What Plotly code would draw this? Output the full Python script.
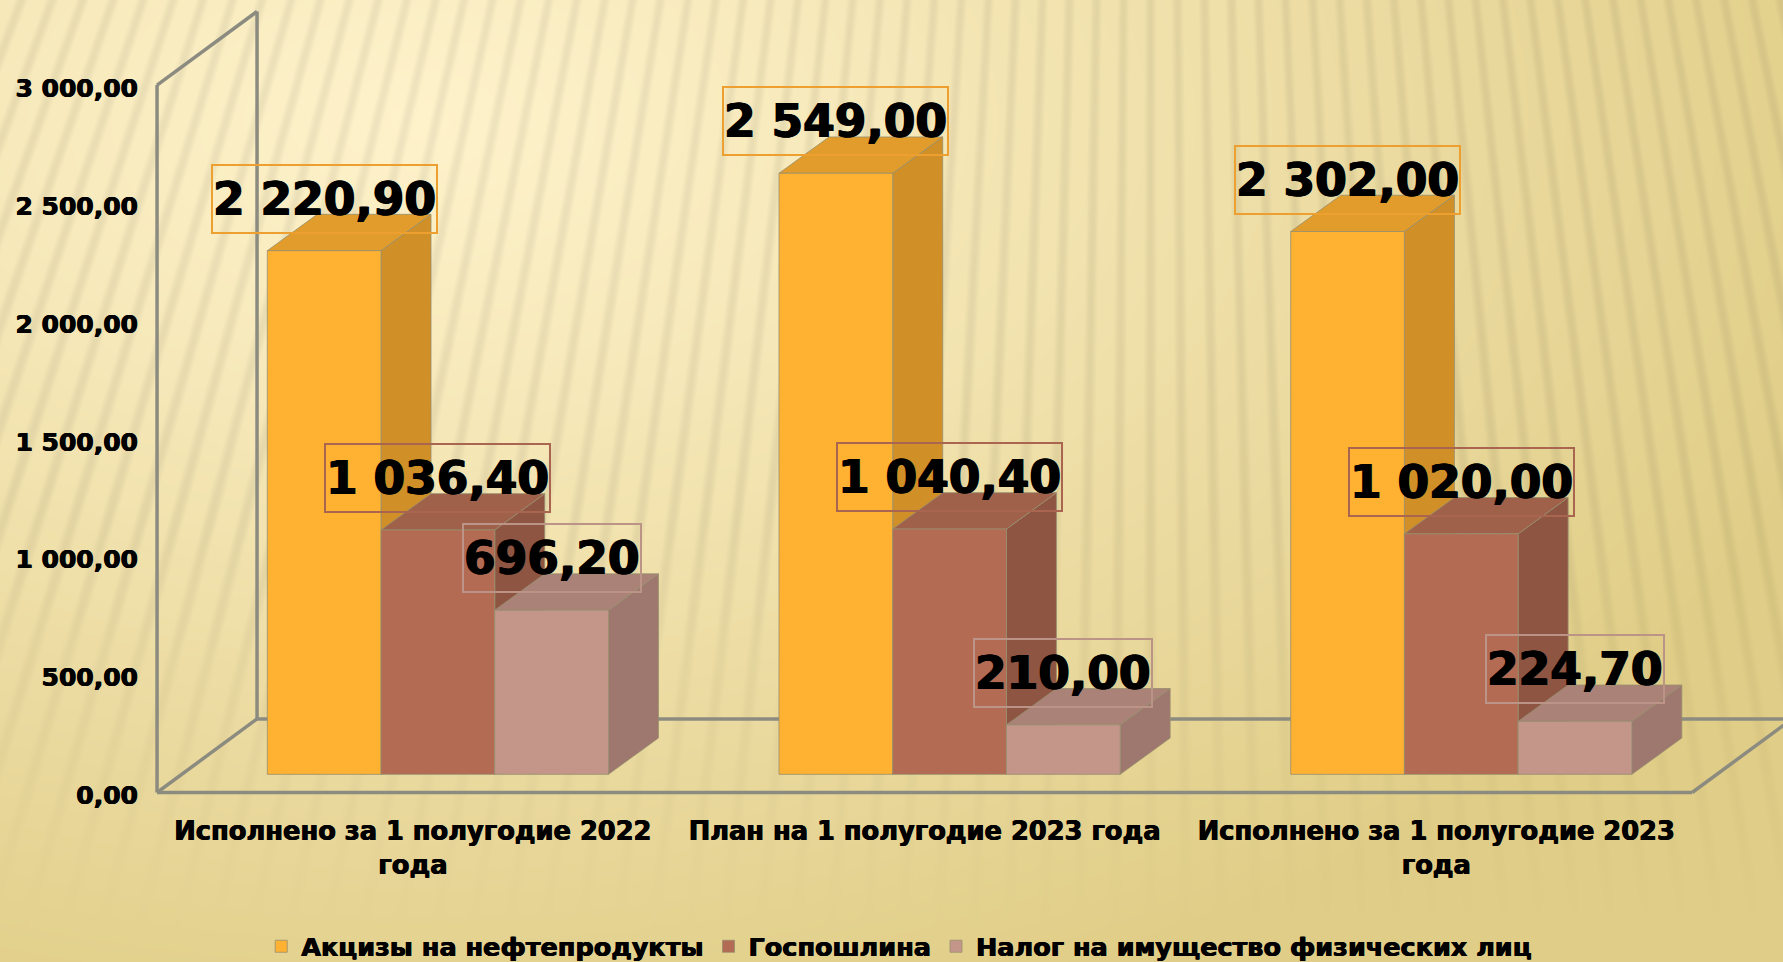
import base64, struct, zlib
import numpy as np
import plotly.graph_objects as go

categories = ["Исполнено за 1 полугодие 2022<br>года", "План на 1 полугодие 2023 года", "Исполнено за 1 полугодие 2023<br>года"]
series_names = ["Акцизы на нефтепродукты", "Госпошлина", "Налог на имущество физических лиц"]
excise = [2220.90, 2549.00, 2302.00]
duty = [1036.40, 1040.40, 1020.00]
property_tax = [696.20, 210.00, 224.70]
y_ticks = [0, 500, 1000, 1500, 2000, 2500, 3000]

W, H = 1783, 962
FONT = "DejaVu Sans"
HEAVY = "0.5px 0 0 black, -0.5px 0 0 black"

front = ["#FFB232", "#B36B53", "#C4968A"]
side = ["#D09027", "#8E5642", "#9E776E"]
top = ["#E29C2B", "#A0614B", "#AA8277"]
label_border = ["#EDA02F", "#A9654F", "#BC9387"]

def fmt(v):
    return f"{v:,.2f}".replace(",", " ").replace(".", ",")

# 3-D projection constants, in axis units
bar_w = 2 / 9
bar_dx, bar_base = 0.0488, 77
side_dx, side_dy = 0.0977, 154
wall_dx, wall_dy = 0.1954, 312

# background picture
yy, xx = np.mgrid[0:H, 0:W].astype(float)
d = np.hypot((xx - 420) / 1500, (yy - 120) / 950)
t = np.clip(d, 0, 1) ** 1.1
c0, c1 = np.array([254, 242, 203.]), np.array([224, 205, 135.])
angle = np.arctan2(xx - 1150, yy + 3000)
phase = (angle / 0.009) % 1.0
st = np.clip(np.cos(2 * np.pi * phase), 0, 1) ** 1.5
fade = np.clip((930 - yy) / 420, 0, 1)
img = c0[None, None, :] + (c1 - c0)[None, None, :] * t[..., None]
img = img * (1 - (0.06 * st * fade)[..., None])
img = img.round().clip(0, 255).astype(np.uint8)
raw = b"".join(b"\0" + img[r].tobytes() for r in range(H))
def chunk(k, data):
    return struct.pack(">I", len(data)) + k + data + struct.pack(">I", zlib.crc32(k + data) & 0xffffffff)
png = b"\x89PNG\r\n\x1a\n" + chunk(b"IHDR", struct.pack(">IIBBBBB", W, H, 8, 2, 0, 0, 0)) + chunk(b"IDAT", zlib.compress(raw, 9)) + chunk(b"IEND", b"")
bg_uri = "data:image/png;base64," + base64.b64encode(png).decode()

# axis ranges: plot area covers the full page
px_per_cat = 511.7
px_per_val = 0.2358
x0_px, y0_px = 412.9, 792.5
x_range = [-x0_px / px_per_cat, (W - x0_px) / px_per_cat]
y_range = [-(H - y0_px) / px_per_val, y0_px / px_per_val]

fig = go.Figure()
shapes = []
grey = "#8C8B80"
def line(x1, y1, x2, y2, w=3.5):
    shapes.append(dict(type="line", xref="x", yref="y", x0=x1, y0=y1, x1=x2, y1=y2, layer="below", line=dict(color=grey, width=w)))

L, R = -0.5, 2.5
ymax = y_ticks[-1]
line(L, 0, L, ymax)
line(L, ymax, L + wall_dx, ymax + wall_dy)
line(L + wall_dx, ymax + wall_dy, L + wall_dx, wall_dy)
line(L, 0, L + wall_dx, wall_dy)
line(L + wall_dx, wall_dy, R + wall_dx, wall_dy)
line(L, 0, R, 0)
line(R, 0, R + wall_dx, wall_dy)

edge = "rgba(150,142,110,0.8)"
annotations = []
for j, (name, vals) in enumerate(zip(series_names, [excise, duty, property_tax])):
    fig.add_trace(go.Bar(
        name=name, x=[i + bar_dx for i in range(3)], y=vals, base=bar_base,
        marker=dict(color=front[j], line=dict(color=edge, width=1)),
    ))
    for i, v in enumerate(vals):
        xl = i + bar_dx + (j - 1.5) * bar_w
        xr = xl + bar_w
        yt = v + bar_base
        shapes.append(dict(type="path", xref="x", yref="y", layer="below",
            path=f"M{xr},{bar_base} L{xr + side_dx},{bar_base + side_dy} L{xr + side_dx},{yt + side_dy} L{xr},{yt} Z",
            fillcolor=side[j], line=dict(color=edge, width=1)))
        shapes.append(dict(type="path", xref="x", yref="y", layer="below",
            path=f"M{xl},{yt} L{xl + side_dx},{yt + side_dy} L{xr + side_dx},{yt + side_dy} L{xr},{yt} Z",
            fillcolor=top[j], line=dict(color=edge, width=1)))
        annotations.append(dict(
            x=xl + bar_w / 2, y=yt, xref="x", yref="y", yshift=52, yanchor="middle", xanchor="center",
            text=fmt(v), showarrow=False, font=dict(family=FONT, size=45.5, color="black", weight="bold", shadow="0.8px 0 0 black, -0.8px 0 0 black"),
            bordercolor=label_border[j], borderwidth=2, borderpad=0, height=66, valign="middle",
        ))

fig.update_layout(
    width=W, height=H, autosize=False,
    margin=dict(l=0, r=0, t=0, b=0, pad=0, autoexpand=False),
    paper_bgcolor="#F0E0A8", plot_bgcolor="rgba(0,0,0,0)",
    barmode="group", bargap=1 / 3, bargroupgap=0,
    images=[dict(source=bg_uri, xref="paper", yref="paper", x=0, y=1, sizex=1, sizey=1, sizing="stretch", layer="below", xanchor="left", yanchor="top")],
    shapes=shapes, annotations=annotations,
    font=dict(family=FONT, color="black"),
    showlegend=True,
    legend=dict(orientation="h", x=0.1465, y=-0.0085, xanchor="left", yanchor="bottom", bgcolor="rgba(0,0,0,0)",
                font=dict(family=FONT, size=25.5, color="black", weight="bold", shadow=HEAVY), traceorder="normal", itemclick=False),
    xaxis=dict(range=x_range, tickmode="array", tickvals=[0, 1, 2], ticktext=categories, showgrid=False, zeroline=False,
               showline=False, ticks="outside", ticklen=16, tickcolor="rgba(0,0,0,0)", tickangle=0,
               anchor="free", position=(H - y0_px) / H, domain=[0, 1],
               tickfont=dict(family=FONT, size=25.7, color="black", weight="bold", shadow=HEAVY)),
    yaxis=dict(range=y_range, tickmode="array", tickvals=y_ticks, ticktext=[fmt(v) for v in y_ticks], showgrid=False, zeroline=False,
               showline=False, ticks="outside", ticklen=14, tickcolor="rgba(0,0,0,0)", ticklabelshift=3,
               anchor="free", position=157 / W, domain=[0, 1],
               tickfont=dict(family=FONT, size=25, color="black", weight="bold", shadow=HEAVY)),
)

fig.write_html("out.html", config=dict(displayModeBar=False), post_script="document.body.style.margin='0';document.body.style.overflow='hidden';")
